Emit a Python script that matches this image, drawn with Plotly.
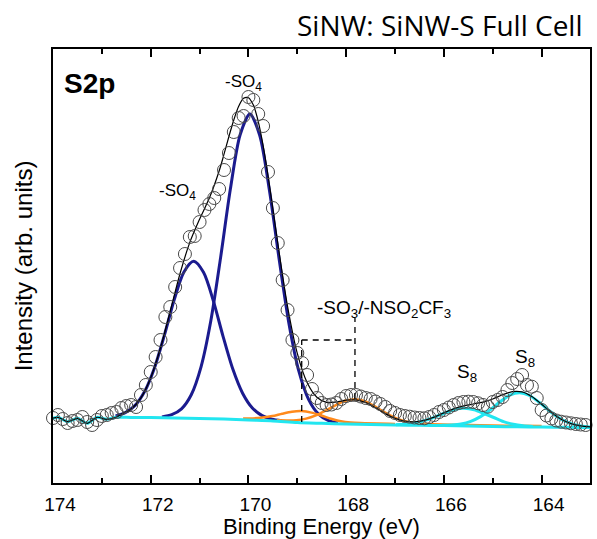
import plotly.graph_objects as go

# ---- measured S2p spectrum (binding energy in eV, intensity in arb. units) ----
energy = [174.1, 174.0, 173.9, 173.8, 173.7, 173.6, 173.5, 173.4, 173.3, 173.2,
          173.1, 173.0, 172.9, 172.8, 172.7, 172.6, 172.5, 172.4, 172.3, 172.2,
          172.1, 172.0, 171.9, 171.8, 171.7, 171.6, 171.5, 171.4, 171.3, 171.2,
          171.1, 171.0, 170.9, 170.8, 170.7, 170.6, 170.5, 170.4, 170.3, 170.2,
          170.1, 170.0, 169.9, 169.8, 169.7, 169.6, 169.5, 169.4, 169.3, 169.2,
          169.1, 169.0, 168.9, 168.8, 168.7, 168.6, 168.5, 168.4, 168.3, 168.2,
          168.1, 168.0, 167.9, 167.8, 167.7, 167.6, 167.5, 167.4, 167.3, 167.2,
          167.1, 167.0, 166.9, 166.8, 166.7, 166.6, 166.5, 166.4, 166.3, 166.2,
          166.1, 166.0, 165.9, 165.8, 165.7, 165.6, 165.5, 165.4, 165.3, 165.2,
          165.1, 165.0, 164.9, 164.8, 164.7, 164.6, 164.5, 164.4, 164.3, 164.2,
          164.1, 164.0, 163.9, 163.8, 163.7, 163.6, 163.5, 163.4, 163.3, 163.2,
          163.1, 163.0, 162.9]
intensity = [63, 65, 68, 64, 60, 62, 63, 66, 61, 58,
             63, 67, 68, 70, 71, 75, 77, 78, 76, 88,
             98, 111, 126, 143, 166, 176, 196, 215, 229, 246,
             247, 261, 273, 279, 285, 294, 313, 330, 351, 365,
             367, 386, 383, 369, 357, 311, 275, 240, 203, 173,
             143, 130, 120, 108, 94, 85, 80, 78, 78.5, 80,
             84, 87, 88, 88, 86.5, 85, 84, 81.5, 79, 76,
             72, 70, 68, 67, 66.3, 65.5, 65, 64.7, 66, 68,
             71, 73, 75.5, 78, 80, 81, 81.3, 81, 79.7, 78,
             76.3, 81, 83, 86, 93, 100, 104, 108, 98, 96.3,
             85, 73, 67.5, 64.5, 62.5, 61.3, 60.5, 59.7, 59, 58.5,
             58, 58, 58.5]

# ---- fitted envelope ----
env_e = [174.1, 173.9, 173.7, 173.5, 173.3, 173.1, 172.9, 172.7, 172.6, 172.4,
         172.2, 172.0, 171.8, 171.6, 171.4, 171.2, 171.0, 170.8, 170.6, 170.5,
         170.4, 170.3, 170.2, 170.1, 170.0, 169.9, 169.8, 169.7, 169.6, 169.5,
         169.4, 169.2, 169.0, 168.8, 168.6, 168.4, 168.2, 168.0, 167.8, 167.6,
         167.4, 167.2, 167.0, 166.8, 166.6, 166.4, 166.2, 166.0, 165.8, 165.6,
         165.4, 165.2, 165.0, 164.8, 164.6, 164.4, 164.2, 164.0, 163.8, 163.6,
         163.4, 163.2, 163.0, 162.9]
env_i = [63.0, 65.7, 61.3, 64.7, 59.7, 65.7, 63.7, 66.0, 68.8, 74.0,
         85.2, 105.3, 135.0, 171.9, 209.5, 240.6, 263.8, 284.9, 312.0, 328.8,
         346.5, 363.0, 376.7, 384.7, 385.3, 377.9, 361.6, 337.4, 307.5, 274.0,
         239.8, 176.7, 129.6, 100.5, 85.8, 80.6, 81.0, 82.8, 83.1, 80.5,
         75.3, 69.4, 64.6, 61.8, 61.2, 62.7, 65.9, 70.1, 74.1, 77.1,
         79.0, 80.9, 84.0, 88.2, 91.4, 91.1, 86.5, 78.8, 70.5, 63.8,
         59.4, 57.1, 56.0, 55.7]

# ---- background ----
bg_e = [174.1, 173.9, 173.7, 173.5, 173.3, 173.1, 172.9, 172.7, 172.4, 172.0,
        171.5, 171.0, 170.5, 170.0, 169.5, 169.0, 168.5, 168.0, 167.5, 167.0,
        166.5, 166.0, 165.5, 165.0, 164.5, 164.0, 163.5, 163.0, 162.9]
bg_i = [63.0, 65.7, 61.3, 64.7, 59.7, 65.7, 63.7, 65.7, 65.5, 65.5,
        65.0, 64.5, 64.0, 63.0, 62.1, 60.5, 59.7, 59.0, 58.5, 58.0,
        57.7, 57.5, 57.1, 56.5, 56.2, 56.0, 55.7, 55.5, 55.4]

# ---- -SO4 doublet components ----
so4_a_e = [172.72, 172.52, 172.32, 172.12, 171.92, 171.72, 171.52, 171.32, 171.12,
           170.92, 170.72, 170.52, 170.32, 170.12, 169.92, 169.72, 169.52, 169.32]
so4_a_i = [67.1, 70.3, 77.6, 92.0, 115.6, 147.9, 183.1, 211.1, 221.7,
           210.7, 182.4, 146.7, 113.9, 89.8, 75.0, 67.4, 63.8, 62.3]
so4_b_e = [171.77, 171.57, 171.37, 171.17, 170.97, 170.77, 170.57, 170.37, 170.17, 169.97,
           169.77, 169.57, 169.37, 169.17, 168.97, 168.77, 168.57, 168.37, 168.17]
so4_b_i = [66.1, 68.3, 74.2, 88.3, 116.2, 162.2, 225.4, 293.9, 348.3, 369.1,
           347.7, 292.5, 223.3, 159.1, 112.1, 83.6, 69.1, 62.6, 60.0]

# ---- -SO3 / -NSO2CF3 doublet components ----
so3_a_e = [170.11, 169.91, 169.71, 169.51, 169.31, 169.11, 168.91, 168.71, 168.51,
           168.31, 168.11, 167.91, 167.71, 167.0]
so3_a_i = [64.6, 64.6, 65.4, 66.9, 69.3, 71.3, 71.9, 70.4, 67.5,
           64.2, 61.8, 60.5, 59.9, 59.0]
so3_b_e = [169.42, 169.22, 169.02, 168.82, 168.62, 168.42, 168.22, 168.02, 167.82,
           167.62, 167.42, 167.22, 167.02, 166.82, 166.62, 166.42, 166.22, 165.5,
           165.0, 164.5, 164.0]
so3_b_i = [62.9, 62.6, 62.8, 64.4, 67.6, 72.3, 77.7, 82.2, 83.8,
           81.8, 76.8, 70.9, 65.7, 62.1, 60.1, 59.2, 58.7, 58.1,
           57.5, 57.2, 57.0]

# ---- S8 doublet components ----
s8_a_e = [166.98, 166.78, 166.58, 166.38, 166.18, 165.98, 165.78, 165.58,
          165.38, 165.18, 164.98, 164.78, 164.58, 164.38, 164.18]
s8_a_i = [58.3, 58.9, 60.2, 62.6, 66.1, 70.0, 73.5, 74.7,
          73.2, 69.5, 65.5, 61.3, 58.7, 57.2, 56.4]
s8_b_e = [166.05, 165.85, 165.65, 165.45, 165.25, 165.05, 164.85, 164.65, 164.45,
          164.25, 164.05, 163.85, 163.65, 163.45, 163.25, 163.05, 162.85]
s8_b_i = [57.7, 58.1, 59.1, 61.7, 66.4, 73.2, 81.2, 87.9, 90.2,
          87.5, 80.7, 72.5, 65.3, 60.3, 57.5, 56.2, 55.6]

# ---- dashed guides at the -SO3/-NSO2CF3 doublet positions ----
guide_e = [168.91, 167.82]
guide_top = [143, 165]
guide_bottom = [61, 84]

# ---- labels: (text, energy, intensity, font size) ----
labels = [
    ("-SO<sub>4</sub>", 170.1, 400, 17),
    ("-SO<sub>4</sub>", 171.46, 291, 17),
    ("-SO<sub>3</sub>/-NSO<sub>2</sub>CF<sub>3</sub>", 167.22, 174, 19),
    ("S<sub>8</sub>", 165.52, 110, 19),
    ("S<sub>8</sub>", 164.34, 125, 19),
]

BLUE = "#1b1b8f"
ORANGE = "#ff8a1c"
CYAN = "#22e6f0"

# plot-area geometry in pixels (used to place paper-anchored text)
W, H = 597, 539
ML, MR, MT, MB = 53, 5, 49, 56
PW, PH = W - ML - MR, H - MT - MB


def px_to_paper(px, py):
    return (px - ML) / PW, (H - MB - py) / PH


fig = go.Figure()


def add_curve(x, y, color, width):
    fig.add_trace(go.Scatter(
        x=x, y=y, mode="lines",
        line=dict(color=color, width=width, shape="spline", smoothing=0.8),
        cliponaxis=False, hoverinfo="skip", showlegend=False))


add_curve(so4_a_e, so4_a_i, BLUE, 3)
add_curve(so4_b_e, so4_b_i, BLUE, 3)
add_curve(so3_a_e, so3_a_i, ORANGE, 2.5)
add_curve(so3_b_e, so3_b_i, ORANGE, 2.5)
add_curve(bg_e, bg_i, CYAN, 3)
add_curve(s8_a_e, s8_a_i, CYAN, 3)
add_curve(s8_b_e, s8_b_i, CYAN, 3)
add_curve(env_e, env_i, "#000000", 1.2)

fig.add_trace(go.Scatter(
    x=energy, y=intensity, mode="markers",
    marker=dict(symbol="circle-open", size=13, color="#4a4a4a", line=dict(width=1)),
    cliponaxis=False, hoverinfo="skip", showlegend=False))

dash = dict(color="black", width=1.3, dash="6px,5px")
fig.add_shape(type="line", x0=guide_e[0], x1=guide_e[0], y0=guide_bottom[0], y1=guide_top[0], line=dash)
fig.add_shape(type="line", x0=guide_e[0], x1=guide_e[1], y0=guide_top[0], y1=guide_top[0], line=dash)
fig.add_shape(type="line", x0=guide_e[1], x1=guide_e[1], y0=guide_bottom[1], y1=guide_top[1], line=dash)

for text, ex, iy, fs in labels:
    fig.add_annotation(x=ex, y=iy, xref="x", yref="y", text=text, showarrow=False,
                       font=dict(family="Arial", size=fs, color="black"),
                       xanchor="center", yanchor="middle")

sx, sy = px_to_paper(62, 83)
fig.add_annotation(x=sx, y=sy, xref="paper", yref="paper", text="<b>S2p</b>",
                   showarrow=False, font=dict(family="Arial", size=28, color="black"),
                   xanchor="left", yanchor="middle")

tx, ty = px_to_paper(587, 25)
fig.add_annotation(x=tx, y=ty, xref="paper", yref="paper", text="SiNW: SiNW-S Full Cell",
                   showarrow=False, font=dict(family="Open Sans", size=28, color="black"),
                   xanchor="right", yanchor="middle")

fig.update_layout(
    width=W, height=H,
    margin=dict(l=ML, r=MR, t=MT, b=MB),
    paper_bgcolor="white", plot_bgcolor="white",
    font=dict(family="Arial", color="black"),
    xaxis=dict(
        range=[174.0, 163.01], autorange=False,
        tickmode="linear", tick0=164, dtick=2,
        ticks="inside", ticklen=8, tickwidth=1.5, tickcolor="black",
        minor=dict(tick0=163, dtick=1, ticks="inside", ticklen=5, tickwidth=1.5, tickcolor="black"),
        showline=True, linewidth=2, linecolor="black", mirror="ticks",
        showgrid=False, zeroline=False,
        tickfont=dict(size=19, family="Arial", color="black"),
        ticklabelshift=-7, ticklabelstandoff=3,
        title=dict(text="Binding Energy (eV)", font=dict(size=22, family="Arial"), standoff=4),
    ),
    yaxis=dict(
        range=[0, 434], autorange=False,
        showticklabels=False, ticks="",
        showline=True, linewidth=2, linecolor="black", mirror=True,
        showgrid=False, zeroline=False,
        title=dict(text="Intensity (arb. units)", font=dict(size=24, family="Arial"), standoff=12),
    ),
)

fig.write_html("out.html")
